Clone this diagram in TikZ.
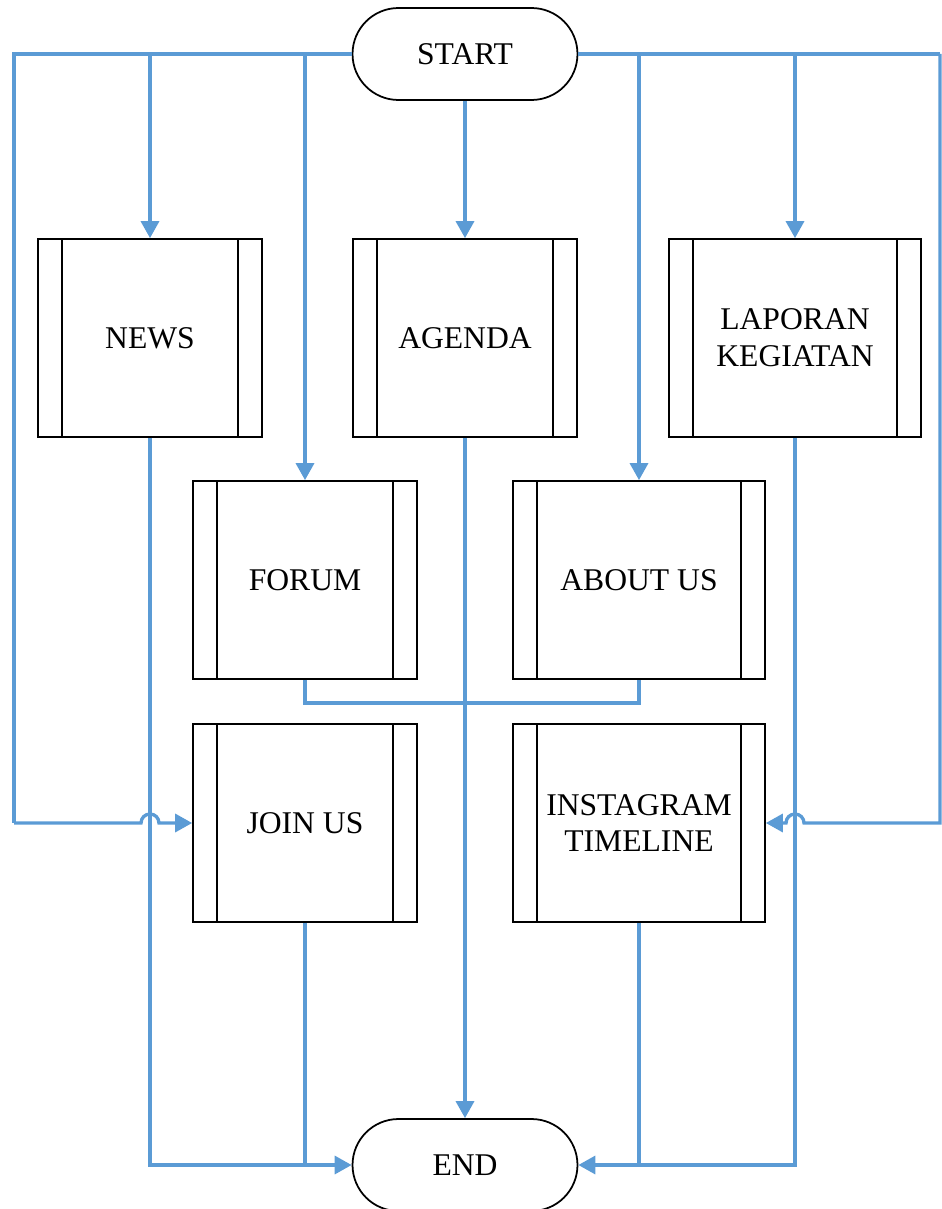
\documentclass[tikz,border=0pt]{standalone}
\usepackage{fontspec}
\setmainfont{Liberation Serif}
\usetikzlibrary{arrows.meta}

\definecolor{flowblue}{HTML}{5B9BD5}

\tikzset{
	terminal/.style={draw, line width=1pt, rounded corners=0.92cm, minimum width=4.5cm, minimum height=1.84cm},
	subproc/.style={draw, line width=1pt, minimum width=4.48cm, minimum height=3.96cm, align=center,
		path picture={
			\draw[line width=1pt] ([xshift=0.48cm]path picture bounding box.north west) -- ([xshift=0.48cm]path picture bounding box.south west);
			\draw[line width=1pt] ([xshift=-0.48cm]path picture bounding box.north east) -- ([xshift=-0.48cm]path picture bounding box.south east);
		}},
	wide/.style={minimum width=5.04cm},
	link/.style={draw=flowblue, line width=1.9pt},
	flow/.style={link, -{Triangle[length=0.34cm,width=0.36cm]}},
}

\begin{document}
\begin{tikzpicture}[x=0.02cm, y=-0.02cm, font=\fontsize{18}{21}\selectfont]
		\useasboundingbox (0,0) rectangle (942,1209);
		% terminals
		\node[terminal] (start) at (465,54) {START};
		\node[terminal] (end) at (465,1165) {END};
		% first row
		\node[subproc] (news) at (150,338) {NEWS};
		\node[subproc] (agenda) at (465,338) {AGENDA};
		\node[subproc, wide] (laporan) at (795,338) {LAPORAN\\KEGIATAN};
		% second row
		\node[subproc] (forum) at (305,580) {FORUM};
		\node[subproc, wide] (about) at (639,580) {ABOUT US};
		% third row
		\node[subproc] (join) at (305,823) {JOIN US};
		\node[subproc, wide] (insta) at (639,823) {INSTAGRAM\\TIMELINE};
		% side rails
		\coordinate (railL) at (14,823);
		\coordinate (railR) at (940,54);
		% from start
		\draw[flow] (start.south) -- (agenda.north);
		\draw[link] (start.west) -| (railL);
		\draw[link] (start.east) -- (railR);
		\draw[flow] (news |- start) -- (news.north);
		\draw[flow] (forum |- start) -- (forum.north);
		\draw[flow] (about |- start) -- (about.north);
		\draw[flow] (laporan |- start) -- (laporan.north);
		\draw[flow] (railL) -- (141,823) arc[start angle=180, end angle=0, radius=0.18cm] -- (join.west);
		\draw[flow] (railR) -- (940,823) -- (804,823) arc[start angle=0, end angle=180, radius=0.18cm] -- (insta.east);
		% forum and about us
		\draw[link] (forum.south) -- ++(0,23) -| (about.south);
		% to end
		\draw[flow] (agenda.south) -- (end.north);
		\draw[flow] (news.south) |- (end.west);
		\draw[link] (join.south) -- (join |- end);
		\draw[flow] (laporan.south) |- (end.east);
		\draw[link] (insta.south) -- (insta |- end);
	\end{tikzpicture}
\end{document}
